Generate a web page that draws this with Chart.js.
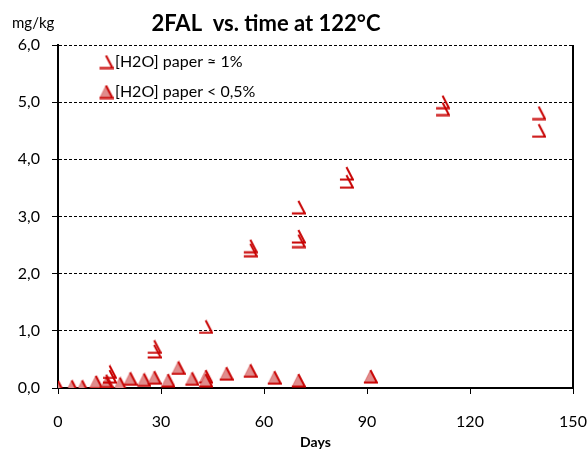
<!DOCTYPE html>
<html>
<head>
<meta charset="utf-8">
<script src="https://cdn.jsdelivr.net/npm/chart.js@4"></script>
<style>
html, body { margin: 0; padding: 0; background: #fff; }
#wrap { width: 588px; height: 452px; }
</style>
</head>
<body>
<div id="wrap"><canvas id="chart" width="588" height="452"></canvas></div>
<script>
// 2FAL content (mg/kg) vs. ageing days at 122 °C
const wetDays = [14, 15, 15, 28, 28, 43, 56, 56, 70, 70, 70, 84, 84, 112, 112, 140, 140];
const wetFal  = [0.12, 0.2, 0.28, 0.72, 0.64, 1.07, 2.48, 2.41, 2.65, 2.57, 3.16, 3.75, 3.61, 5.0, 4.88, 4.81, 4.5];
const dryDays = [0, 4, 7, 11, 14, 18, 21, 25, 28, 32, 35, 39, 43, 43, 49, 56, 63, 70, 91];
const dryFal  = [0.01, 0.02, 0.02, 0.1, 0.08, 0.07, 0.16, 0.14, 0.18, 0.13, 0.35, 0.16, 0.2, 0.13, 0.25, 0.3, 0.18, 0.13, 0.2];
const seriesLabels = ['[H2O] paper \u2248 1%', '[H2O] paper < 0,5%'];
const xTicks = [0, 30, 60, 90, 120, 150];
const yTickLabels = ['0,0', '1,0', '2,0', '3,0', '4,0', '5,0', '6,0'];

const RED = '#c80000';
const PINK = '#e08c8c';
const FONT = 'Lato, "Open Sans", sans-serif';

// excel-like triangle marker: only right side + base drawn in red
function marker(filled) {
    const c = document.createElement('canvas');
    c.width = 15; c.height = 15;
    const g = c.getContext('2d');
    if (filled) {
        g.fillStyle = PINK;
        g.beginPath(); g.moveTo(7.5, 1); g.lineTo(14, 14); g.lineTo(1, 14); g.closePath(); g.fill();
        g.strokeStyle = 'rgba(200,0,0,0.35)'; g.lineWidth = 1;
        g.beginPath(); g.moveTo(1, 14); g.lineTo(7.5, 1); g.stroke();
    }
    g.strokeStyle = RED; g.lineWidth = 2;
    g.beginPath(); g.moveTo(7.5, 1); g.lineTo(14, 13.5); g.lineTo(1, 13.5); g.stroke();
    return c;
}

const pts = (xs, ys) => xs.map((x, i) => ({x: x, y: ys[i]}));

const decor = {
    id: 'decor',
    afterDraw(chart) {
        const ctx = chart.ctx, a = chart.chartArea;
        ctx.save();
        // right frame line
        ctx.strokeStyle = '#000'; ctx.lineWidth = 2;
        ctx.beginPath(); ctx.moveTo(a.right, a.top); ctx.lineTo(a.right, a.bottom); ctx.stroke();

        ctx.fillStyle = '#000';
        ctx.textBaseline = 'middle';
        ctx.font = 'bold 22px ' + FONT;
        ctx.textAlign = 'center';
        ctx.fillText('2FAL  vs. time at 122\u00b0C', 266, 24);

        ctx.font = '15px ' + FONT;
        ctx.textAlign = 'left';
        ctx.fillText('mg/kg', 12, 23);

        // legend inside plot
        const rows = [62, 92];
        chart.data.datasets.forEach((ds, i) => {
            const img = ds.pointStyle;
            ctx.drawImage(img, 106 - img.width / 2, rows[i] - img.height / 2);
            ctx.fillStyle = '#000';
            ctx.font = '16px ' + FONT;
            ctx.fillText(ds.label, 115, rows[i]);
        });
        ctx.restore();
    }
};

const ctx = document.getElementById('chart').getContext('2d');
const myChart = new Chart(ctx, {
    type: 'scatter',
    data: {
        datasets: [{
            label: seriesLabels[0],
            data: pts(wetDays, wetFal),
            pointStyle: marker(false),
            pointRadius: 7,
            showLine: false
        }, {
            label: seriesLabels[1],
            data: pts(dryDays, dryFal),
            pointStyle: marker(true),
            pointRadius: 7,
            showLine: false
        }]
    },
    options: {
        responsive: false,
        animation: false,
        layout: { padding: { top: 45, right: 15, left: 0, bottom: 0 } },
        plugins: {
            legend: { display: false },
            tooltip: { enabled: false }
        },
        scales: {
            x: {
                type: 'linear',
                min: 0, max: 150,
                afterBuildTicks: s => { s.ticks = xTicks.map(v => ({value: v})); },
                afterFit: s => { s.height = 64; s.paddingLeft = 0; s.paddingRight = 0; },
                grid: { drawOnChartArea: false, color: '#000', tickLength: 6 },
                border: { color: '#000', width: 2 },
                ticks: { color: '#000', font: { family: FONT, size: 16 }, padding: 18, maxRotation: 0 },
                title: { display: true, text: 'Days', color: '#000', font: { family: FONT, size: 14, weight: 'bold' }, padding: { top: 0, bottom: 1 } }
            },
            y: {
                type: 'linear',
                min: 0, max: 6,
                afterFit: s => { s.width = 58; },
                ticks: {
                    stepSize: 1, color: '#000', padding: 12,
                    font: { family: FONT, size: 16 },
                    callback: (v, i) => yTickLabels[i]
                },
                grid: { display: true, drawOnChartArea: true, lineWidth: 1, color: '#000', tickColor: '#000', tickLength: 6 },
                border: { display: true, color: '#000', width: 2, dash: [3, 2] }
            }
        }
    },
    plugins: [decor]
});
</script>
</body>
</html>
